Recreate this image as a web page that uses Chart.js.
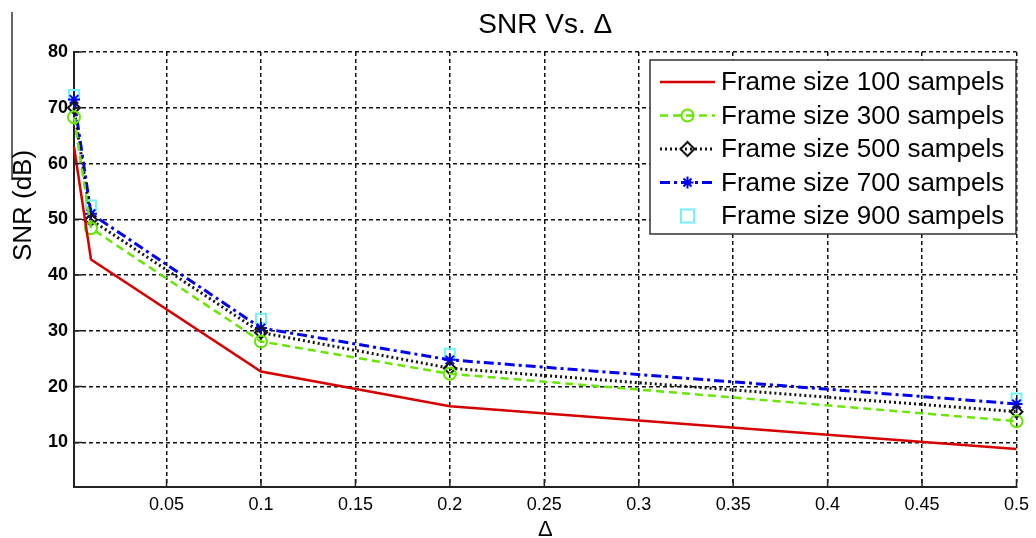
<!DOCTYPE html>
<html>
<head>
<meta charset="utf-8">
<script src="https://cdn.jsdelivr.net/npm/chart.js@4/dist/chart.umd.min.js"></script>
<style>
  html, body { margin: 0; padding: 0; background: #fff; }
  #wrap { width: 1036px; height: 538px; position: relative; }
</style>
</head>
<body>
<div id="wrap"><canvas id="snrChart"></canvas></div>
<script>
// delta values and SNR (dB) per frame size
const deltas = [0.001, 0.01, 0.1, 0.2, 0.5];
const snr100 = [63, 42.8, 22.7, 16.5, 8.8];
const snr300 = [68.3, 48.4, 28.1, 22.3, 13.8];
const snr500 = [70, 49.9, 29.7, 23.3, 15.5];
const snr700 = [71.5, 51, 30.5, 24.8, 16.9];
const snr900 = [72.3, 52.5, 32.2, 25.9, 17.9];

const seriesLabels = [
  'Frame size 100 sampels',
  'Frame size 300 sampels',
  'Frame size 500 sampels',
  'Frame size 700 sampels',
  'Frame size 900 sampels'
];

const xTicks = [0.05, 0.1, 0.15, 0.2, 0.25, 0.3, 0.35, 0.4, 0.45, 0.5];
const yTicks = [10, 20, 30, 40, 50, 60, 70, 80];

const FONT = '"Liberation Sans", Arial, sans-serif';

function toPoints(ys) {
  return deltas.map((x, i) => ({ x: x, y: ys[i] }));
}

// line / marker style per series
const styles = [
  { color: 'rgb(215,0,0)', dash: [], width: 2.5, marker: null, showLine: true },
  { color: 'rgb(102,230,0)', dash: [8, 5], width: 2.5, marker: 'circle', showLine: true },
  { color: 'rgb(20,20,20)', dash: [2, 3], width: 3, marker: 'rectRot', showLine: true },
  { color: 'rgb(0,0,245)', dash: [10, 4, 3, 4], width: 3, marker: 'star', showLine: true },
  { color: 'rgb(110,245,250)', dash: [], width: 2, marker: 'rect', showLine: false }
];

const seriesData = [snr100, snr300, snr500, snr700, snr900];

const datasets = seriesData.map((ys, i) => {
  const s = styles[i];
  return {
    label: seriesLabels[i],
    data: toPoints(ys),
    borderColor: s.color,
    backgroundColor: 'rgba(0,0,0,0)',
    borderWidth: s.width,
    borderDash: s.dash,
    showLine: s.showLine,
    pointStyle: s.marker || 'circle',
    pointRadius: s.marker ? (s.marker === 'rect' ? 7 : 6) : 0,
    pointBorderWidth: 2,
    pointBorderColor: s.color,
    pointBackgroundColor: 'rgba(0,0,0,0)',
    tension: 0,
    clip: false
  };
});

// marker drawing for the legend box
function drawMarker(ctx, style, x, y) {
  ctx.save();
  ctx.setLineDash([]);
  ctx.strokeStyle = style.color;
  ctx.fillStyle = style.color;
  ctx.lineWidth = 2;
  ctx.beginPath();
  if (style.marker === 'circle') {
    ctx.arc(x, y, 6, 0, Math.PI * 2);
    ctx.stroke();
  } else if (style.marker === 'rectRot') {
    ctx.moveTo(x, y - 7); ctx.lineTo(x + 7, y); ctx.lineTo(x, y + 7); ctx.lineTo(x - 7, y); ctx.closePath();
    ctx.stroke();
  } else if (style.marker === 'star') {
    ctx.moveTo(x - 6, y); ctx.lineTo(x + 6, y);
    ctx.moveTo(x, y - 6); ctx.lineTo(x, y + 6);
    ctx.moveTo(x - 4, y - 4); ctx.lineTo(x + 4, y + 4);
    ctx.moveTo(x - 4, y + 4); ctx.lineTo(x + 4, y - 4);
    ctx.stroke();
  } else if (style.marker === 'rect') {
    ctx.rect(x - 6.5, y - 6.5, 13, 13);
    ctx.stroke();
  }
  ctx.restore();
}

const decorPlugin = {
  id: 'decor',
  afterDraw(chart) {
    const ctx = chart.ctx;
    const area = chart.chartArea;
    ctx.save();

    // stray frame edge on the left
    ctx.strokeStyle = '#333';
    ctx.lineWidth = 1.5;
    ctx.beginPath();
    ctx.moveTo(12, 12);
    ctx.lineTo(12, 180);
    ctx.stroke();

    // inward tick marks on both axes
    ctx.strokeStyle = '#222';
    ctx.lineWidth = 1.5;
    ctx.beginPath();
    const xs = chart.scales.x, ys = chart.scales.y;
    xTicks.forEach(v => {
      const px = xs.getPixelForValue(v);
      ctx.moveTo(px, area.bottom);
      ctx.lineTo(px, area.bottom - 8);
    });
    yTicks.forEach(v => {
      const py = ys.getPixelForValue(v);
      ctx.moveTo(area.left, py);
      ctx.lineTo(area.left + 8, py);
    });
    ctx.stroke();

    // title
    ctx.fillStyle = '#000';
    ctx.font = '28px ' + FONT;
    ctx.textAlign = 'center';
    ctx.textBaseline = 'alphabetic';
    ctx.fillText('SNR Vs. \u0394', (area.left + area.right) / 2, 33);

    // x axis title
    ctx.font = '22px ' + FONT;
    ctx.fillText('\u0394', (area.left + area.right) / 2, 536);

    // y axis title
    ctx.save();
    ctx.translate(31, (area.top + area.bottom) / 2 - 64);
    ctx.rotate(-Math.PI / 2);
    ctx.font = '26px ' + FONT;
    ctx.textAlign = 'center';
    ctx.fillText('SNR (dB)', 0, 0);
    ctx.restore();

    // legend box
    const bx = 650, by = 60, bw = 366, bh = 174;
    ctx.fillStyle = '#fff';
    ctx.fillRect(bx, by, bw, bh);
    ctx.strokeStyle = '#333';
    ctx.lineWidth = 1.5;
    ctx.strokeRect(bx, by, bw, bh);

    ctx.font = '26px ' + FONT;
    ctx.textAlign = 'left';
    ctx.textBaseline = 'middle';
    seriesLabels.forEach((label, i) => {
      const s = styles[i];
      const ry = 82 + i * 33.5;
      if (s.showLine) {
        ctx.save();
        ctx.strokeStyle = s.color;
        ctx.lineWidth = s.width;
        ctx.setLineDash(s.dash);
        ctx.beginPath();
        ctx.moveTo(660, ry);
        ctx.lineTo(715, ry);
        ctx.stroke();
        ctx.restore();
      }
      if (s.marker) drawMarker(ctx, s, 687.5, ry);
      ctx.fillStyle = '#000';
      ctx.fillText(label, 721, ry + 1);
    });

    ctx.restore();
  }
};

new Chart(document.getElementById('snrChart'), {
  type: 'line',
  data: { datasets },
  plugins: [decorPlugin],
  options: {
    responsive: true,
    maintainAspectRatio: false,
    animation: false,
    layout: { padding: { left: 0, right: 13, top: 52, bottom: 0 } },
    plugins: {
      legend: { display: false },
      title: { display: false },
      tooltip: { enabled: false }
    },
    scales: {
      x: {
        type: 'linear',
        min: 0.001,
        max: 0.5,
        afterBuildTicks: scale => { scale.ticks = xTicks.map(v => ({ value: v })); },
        afterFit: scale => { scale.height = 51; },
        ticks: {
          color: '#000',
          padding: 7,
          maxRotation: 0,
          autoSkip: false,
          font: { family: FONT, size: 18 },
          callback: v => String(v)
        },
        grid: { color: '#111', lineWidth: 1.5, drawTicks: false },
        border: { display: true, color: '#222', width: 2, dash: [4, 3] }
      },
      y: {
        min: 2,
        max: 80,
        afterBuildTicks: scale => { scale.ticks = yTicks.map(v => ({ value: v })); },
        afterFit: scale => { scale.width = 74; },
        ticks: {
          color: '#000',
          padding: 6,
          autoSkip: false,
          font: { family: FONT, size: 18, weight: 'bold' },
          callback: v => String(v)
        },
        grid: { color: '#111', lineWidth: 1.5, drawTicks: false },
        border: { display: true, color: '#222', width: 2, dash: [4, 3] }
      }
    }
  }
});
</script>
</body>
</html>
